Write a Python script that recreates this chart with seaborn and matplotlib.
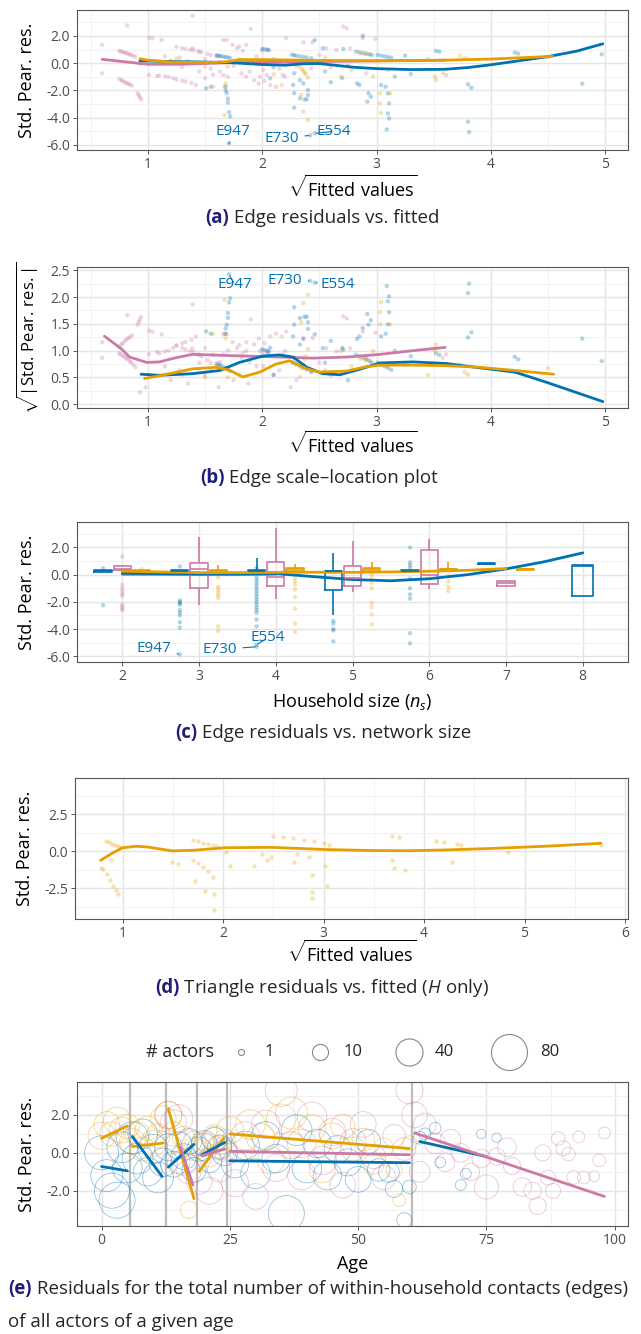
import numpy as np
import pandas as pd
import matplotlib.pyplot as plt
import seaborn as sns
from matplotlib.lines import Line2D
from matplotlib.ticker import MultipleLocator, FormatStrFormatter

# colours for the three model variants
BLUE, PINK, ORANGE = '#0072B2', '#CC79A7', '#E69F00'
NAVY = '#1f1f7a'
pal = {'A': BLUE, 'B': PINK, 'C': ORANGE}

# ---------------- (a)/(b) edge residuals: sqrt(fitted) vs std. pearson residual
pink_fit = [0.60, 0.60, 0.75, 0.76, 0.78, 0.79, 0.81, 0.82, 0.84, 0.85, 0.87, 0.89,
            0.75, 0.77, 0.78, 0.80, 0.81, 0.83, 0.84, 0.86, 0.91, 0.92, 0.93, 0.94,
            0.82, 1.39, 1.01, 1.04, 1.01, 1.08, 1.25, 1.30, 1.33, 1.37, 1.40, 1.44,
            1.47, 1.52, 1.55, 1.60, 1.62, 1.10, 1.15, 1.18, 1.22, 1.25, 1.30, 1.33,
            1.38, 1.42, 1.66, 1.69, 1.39, 1.45, 1.63, 1.66, 1.74, 1.80, 1.86, 1.90,
            1.82, 1.86, 1.89, 1.98, 2.01, 2.04, 2.07, 2.12, 2.71, 2.74, 2.21, 2.36,
            2.44, 2.56, 2.88, 2.99, 2.65, 2.77, 2.18, 2.20, 2.91, 2.43, 3.61, 1.20,
            1.30, 1.50, 1.55, 1.75, 1.95, 2.10, 2.15, 1.15, 1.45, 1.70, 1.50, 1.57,
            1.78, 1.83, 2.00, 2.05, 1.93, 1.97, 2.02, 0.93, 0.98, 1.35, 1.62, 1.88,
            2.25, 2.30, 2.60, 1.12, 1.28, 2.50]
pink_res = [1.34, -0.75, 0.90, 0.87, 0.82, 0.79, 0.74, 0.71, 0.65, 0.61, 0.55, 0.48,
            -1.16, -1.25, -1.30, -1.40, -1.45, -1.52, -1.56, -1.65, -2.20, -2.35, -2.50, -2.65,
            2.76, 3.47, 1.88, 1.83, -0.87, -0.95, 1.20, 1.10, 1.05, 0.98, 0.95, 0.86,
            0.80, 0.68, 0.60, 0.52, 0.50, -0.90, -0.97, -1.00, -1.10, -1.20, -1.28, -1.35,
            -1.45, -1.60, 1.70, 1.70, 1.09, 0.85, -0.62, -0.87, 1.34, 1.22, 1.34, 2.51,
            -0.75, -0.99, -0.62, -0.99, -0.50, -0.87, -1.60, -1.73, 2.69, 2.56, 1.83, 1.53,
            1.53, 1.09, 1.83, 1.78, 0.97, 1.09, -0.87, -0.99, -0.75, -0.38, -0.87, 0.20,
            -0.30, 0.30, -0.40, -0.20, 0.50, 0.30, -0.40, 0.50, -0.60, -1.00, -1.10, -0.85,
            1.10, 0.90, 0.90, 1.00, -1.25, -1.50, -1.30, -0.05, 0.10, 0.15, 0.10, 0.15,
            0.10, -0.20, -0.30, 1.70, 0.40, 0.60]

blue_fit = [1.68, 1.68, 1.69, 1.70, 1.70, 1.71, 1.72, 1.71, 1.60, 1.62, 1.64, 1.66,
            1.68, 1.70, 1.72, 1.51, 1.55, 2.00, 2.02, 2.04, 2.06, 2.07, 2.26, 2.28,
            2.30, 2.33, 2.36, 2.39, 2.43, 2.28, 2.33, 2.36, 2.27, 2.28, 2.28, 2.40,
            2.40, 2.39, 2.33, 2.37, 2.46, 2.53, 2.71, 2.88, 2.82, 2.85, 2.88, 2.91,
            2.94, 2.96, 3.01, 3.04, 3.07, 3.10, 3.13, 2.83, 2.85, 2.93, 2.95, 2.92,
            3.08, 3.10, 3.11, 3.10, 3.11, 3.09, 3.04, 3.16, 3.25, 3.52, 3.55, 3.80,
            3.83, 3.80, 3.81, 4.21, 4.24, 4.80, 4.97, 2.42, 2.46, 2.55, 2.60, 2.70,
            2.10, 3.30, 2.75]
blue_res = [-1.73, -2.00, -2.20, -2.60, -2.90, -3.60, -3.90, -5.88, 0.58, 0.55, 0.52, 0.48,
            0.45, 0.42, 0.38, -1.85, -1.73, 1.05, 1.02, 0.98, 0.95, -1.11, 0.62, 0.58,
            0.55, 0.50, 0.47, 0.42, 0.36, -0.74, -1.24, -1.48, -1.60, -2.20, -3.27, -1.97,
            -2.34, -2.66, -2.58, -2.66, 1.70, 1.09, 1.04, 2.02, 0.85, 0.80, 0.75, 0.70,
            0.65, 0.60, 0.60, 0.55, 0.50, 0.46, 0.41, -1.48, -1.60, -2.20, -2.46, -2.83,
            -1.73, -2.22, -2.95, -3.69, -4.05, -4.86, -1.60, -0.99, 0.55, 0.90, 0.85, -1.55,
            -1.80, -4.30, -5.06, 0.78, 0.70, -1.50, 0.65, -5.30, -5.15, -0.60, -1.40, -1.10,
            -0.30, -0.80, -0.20]

orange_fit = [1.67, 1.68, 1.67, 1.57, 1.50, 1.70, 2.10, 2.33, 2.35, 2.36, 2.37, 2.38,
              2.40, 2.34, 2.36, 2.40, 2.17, 2.86, 2.90, 2.93, 3.03, 3.03, 3.04, 3.12,
              3.10, 2.97, 2.69, 2.78, 3.51, 3.52, 3.73, 3.77, 3.80, 3.58, 4.50, 1.80,
              1.25, 2.55, 3.45]
orange_res = [-1.73, -1.50, -3.80, -1.73, -0.25, -0.25, -0.82, -0.26, -0.45, -0.55, -0.70, -0.80,
              -1.06, -2.34, -3.56, -4.18, -1.60, 0.72, 0.68, 0.66, -2.22, -2.95, -3.64, -2.22,
              -0.50, -0.99, -0.99, -0.50, -0.99, -1.23, 0.55, 0.36, 0.31, -0.75, 0.45, 0.30,
              0.35, 0.40, 0.30]

# smooth fits, panel (a)
a_pink_x = [0.60, 0.80, 1.00, 1.30, 1.70, 2.00, 2.50, 3.00, 3.60]
a_pink_y = [0.28, 0.10, -0.08, -0.08, 0.03, 0.06, 0.12, 0.17, 0.22]
a_blue_x = [0.93, 1.20, 1.50, 1.70, 2.00, 2.20, 2.35, 2.50, 2.80, 3.00, 3.30, 3.60,
            3.80, 4.00, 4.20, 4.50, 4.75, 4.98]
a_blue_y = [0.18, 0.12, 0.08, 0.05, -0.10, -0.15, -0.05, -0.03, -0.30, -0.40, -0.47, -0.45,
            -0.32, -0.12, 0.12, 0.48, 0.88, 1.42]
a_orange_x = [0.93, 1.00, 1.20, 1.40, 1.60, 1.70, 1.80, 2.00, 2.50, 3.00, 3.50, 4.00, 4.54]
a_orange_y = [0.32, 0.22, 0.08, 0.05, 0.06, 0.12, 0.26, 0.26, 0.20, 0.17, 0.20, 0.30, 0.50]

# smooth fits, panel (b)
b_pink_x = [0.62, 0.77, 0.84, 0.99, 1.10, 1.25, 1.39, 1.54, 1.83, 2.15, 2.44, 2.74, 3.03, 3.32, 3.60]
b_pink_y = [1.27, 1.03, 0.88, 0.78, 0.79, 0.87, 0.93, 0.92, 0.90, 0.88, 0.86, 0.88, 0.93, 1.00, 1.06]
b_blue_x = [0.94, 1.10, 1.39, 1.63, 1.80, 2.01, 2.15, 2.27, 2.39, 2.53, 2.68, 2.85, 3.03,
            3.32, 3.61, 3.90, 4.21, 4.50, 4.98]
b_blue_y = [0.56, 0.54, 0.57, 0.63, 0.78, 0.90, 0.92, 0.88, 0.69, 0.57, 0.55, 0.65, 0.77,
            0.79, 0.76, 0.68, 0.60, 0.40, 0.05]
b_orange_x = [0.97, 1.10, 1.39, 1.60, 1.72, 1.83, 1.98, 2.12, 2.24, 2.39, 2.50, 2.74, 2.91,
              3.03, 3.32, 3.61, 3.90, 4.21, 4.55]
b_orange_y = [0.48, 0.53, 0.66, 0.69, 0.63, 0.51, 0.60, 0.75, 0.81, 0.66, 0.60, 0.62, 0.70,
              0.73, 0.73, 0.72, 0.69, 0.63, 0.56]

# ---------------- (c) residuals by household size
box_grp = ['A', 'B', 'C'] * 6
box_n = [2, 2, 2, 3, 3, 3, 4, 4, 4, 5, 5, 5, 6, 6, 6, 7, 7, 7]
box_lo = [0.20, 0.36, 0.22, 0.22, -2.20, 0.12, 0.22, -1.79, 0.29, -2.93, -1.30, 0.30,
          0.25, -1.03, 0.32, 0.78, -0.80, 0.36]
box_q1 = [0.20, 0.36, 0.22, 0.22, -1.00, 0.12, 0.22, -0.86, 0.29, -1.15, -0.81, 0.30,
          0.25, -0.66, 0.32, 0.78, -0.80, 0.36]
box_med = [0.25, 0.45, 0.27, 0.28, 0.43, 0.25, 0.30, -0.20, 0.40, 0.25, -0.25, 0.42,
           0.28, -0.05, 0.38, 0.81, -0.62, 0.40]
box_q3 = [0.32, 0.65, 0.32, 0.34, 0.82, 0.35, 0.35, 0.90, 0.48, 0.29, 0.65, 0.50,
          0.32, 1.78, 0.45, 0.85, -0.50, 0.44]
box_hi = [0.32, 0.65, 0.32, 0.34, 2.75, 0.72, 1.21, 3.41, 0.75, 1.58, 2.48, 0.95,
          0.32, 2.63, 0.90, 0.85, -0.50, 0.44]
box8 = [-1.54, -1.54, 0.65, 0.70, 0.70]   # only model A has households of 8

c_blue_n = [2] * 2 + [3] * 11 + [4] * 19 + [5] * 5 + [6] * 10
c_blue_res = [0.48, -2.25,
              0.60, -1.90, -2.00, -2.10, -2.20, -2.60, -2.80, -3.00, -3.50, -3.90, -5.86,
              0.50, -0.20, -0.40, -0.60, -0.80, -1.00, -1.20, -1.40, -1.60, -1.80, -2.00,
              -2.20, -2.40, -2.60, -2.80, -3.30, -3.80, -5.30, -5.15,
              -3.40, -3.60, -4.00, -4.10, -4.90,
              2.00, 0.90, 0.70, 0.50, -0.30, -1.00, -1.45, -1.76, -4.30, -5.05]
c_pink_n = [2] * 10
c_pink_res = [1.34, -0.75, -1.00, -1.20, -1.40, -1.55, -2.20, -2.35, -2.50, -2.60]
c_orange_n = [2] * 1 + [3] * 8 + [4] * 8 + [5] * 8 + [6] * 4
c_orange_res = [0.40,
                -0.20, -0.90, -1.10, -1.30, -1.50, -1.70, -3.80, -4.15,
                -0.25, -0.50, -0.75, -1.10, -1.64, -2.50, -3.60, -4.20,
                0.00, -0.30, -0.60, -1.00, -2.08, -2.39, -2.93, -3.66,
                -0.10, -0.50, -0.90, -1.20]

c_blue_x = [2.0, 2.5, 3.0, 3.5, 4.0, 4.5, 5.0, 5.5, 6.0, 6.5, 7.0, 7.5, 8.0]
c_blue_y = [0.10, 0.07, 0.05, 0.05, 0.08, -0.15, -0.36, -0.45, -0.30, 0.00, 0.42, 0.95, 1.60]
c_orange_x = [2.0, 2.5, 3.0, 3.5, 4.0, 4.5, 5.0, 5.5, 6.0, 6.5, 7.0]
c_orange_y = [0.25, 0.20, 0.15, 0.15, 0.17, 0.18, 0.17, 0.20, 0.25, 0.32, 0.45]
c_pink_x = [2.0, 2.5, 3.0, 3.5, 4.0]
c_pink_y = [0.02, 0.01, 0.00, 0.00, 0.02]

# ---------------- (d) triangle residuals (H only)
d_fit = [0.78, 0.83, 0.86, 0.89, 0.92, 0.95, 0.97, 0.80, 0.84, 0.87, 0.90, 0.93, 0.95,
         0.88, 1.49, 1.55, 1.70, 1.75, 1.80, 1.85, 1.90, 1.94, 1.70, 1.75, 1.80, 1.85,
         1.90, 1.72, 1.82, 1.91, 1.91, 2.03, 2.07, 2.31, 2.39, 2.48, 2.44, 2.50, 2.60,
         2.70, 2.80, 2.90, 3.00, 3.05, 2.71, 2.73, 2.85, 2.88, 2.88, 2.88, 3.01, 3.03,
         3.68, 3.75, 3.68, 3.70, 3.81, 4.12, 4.20, 4.28, 4.33, 4.37, 4.84, 5.76]
d_res = [-1.13, 0.72, 0.62, 0.52, 0.43, 0.35, 0.30, -1.20, -1.55, -1.90, -2.30, -2.60, -2.85,
         -0.60, -0.68, -0.84, 0.76, 0.68, 0.60, 0.52, 0.44, 0.36, -0.60, -0.80, -1.05, -1.35,
         -1.75, -2.00, -2.70, -2.90, -3.93, -0.02, -0.97, -0.97, -0.17, -0.40, -0.55, 1.05, 0.95,
         0.88, 0.80, 0.70, 0.55, 0.45, -0.70, -0.16, -0.40, -1.60, -2.76, -3.13, -0.97, -2.34,
         1.04, 0.99, -0.55, -1.10, -1.26, 0.71, 0.64, -0.68, 0.48, 0.43, -0.02, 0.45]
d_line_x = [0.78, 0.90, 1.00, 1.13, 1.25, 1.49, 1.70, 2.02, 2.47, 3.03, 3.50, 3.85, 4.20, 4.66, 5.20, 5.76]
d_line_y = [-0.60, -0.10, 0.25, 0.35, 0.30, 0.04, 0.08, 0.25, 0.28, 0.13, 0.06, 0.05, 0.10, 0.20, 0.35, 0.55]

# ---------------- (e) residuals by age (circle size = number of actors)
e_blue_age = [0, 1, 2, 3, 4, 5, 6, 7, 8, 9, 10, 11, 12, 13, 14, 15, 16, 17, 18, 19, 20, 21, 22,
              23, 24, 26, 28, 30, 32, 34, 36, 38, 40, 42, 44, 46, 48, 50, 52, 54, 56, 57, 59,
              60, 62, 63, 65, 66, 70, 71, 74, 77]
e_blue_res = [0.0, -1.2, -2.0, -2.5, 0.3, -0.8, 0.8, -0.3, 1.0, -1.0, 0.2, -1.3, -0.5, 0.3,
              -0.6, 0.4, -0.2, 0.6, -0.9, 0.2, 0.5, -0.4, 0.7, 0.3, 0.0, -0.6, 0.4, -1.1, 0.9,
              -0.3, -3.2, 1.2, -0.8, 0.5, -1.2, 0.2, -0.5, -1.4, 0.6, -0.9, -1.0, -1.9, -3.55,
              -1.8, 0.8, 1.0, 1.3, -0.5, -1.7, -1.1, 1.0, 0.8]
e_blue_n = [70, 60, 75, 80, 55, 50, 60, 55, 50, 45, 50, 55, 45, 40, 35, 40, 35, 35, 30, 30, 35,
            30, 30, 30, 35, 40, 45, 50, 45, 45, 80, 55, 50, 45, 45, 40, 40, 35, 30, 25, 20, 12,
            8, 6, 5, 4, 4, 3, 3, 3, 2, 2]
e_orange_age = [0, 1, 2, 3, 4, 5, 6, 7, 8, 9, 10, 11, 12, 13, 14, 15, 16, 17, 18, 19, 20, 21,
                22, 23, 24, 25, 27, 29, 31, 33, 35, 37, 39, 41, 43, 45, 47, 49, 51, 53, 55, 57,
                58, 60]
e_orange_res = [0.9, 1.5, 1.0, 1.7, 1.2, 1.4, 0.6, 1.0, 0.2, 1.3, 0.5, 0.9, 1.8, 2.0, 1.0, -0.5,
                0.8, -3.0, 0.3, 0.2, 0.6, -0.2, 0.9, 0.4, 0.7, 1.2, 0.3, 1.5, 0.8, -0.4, 1.8,
                2.1, 0.5, 1.3, -0.9, 0.9, 1.4, 0.2, 0.7, -0.6, 0.3, -0.9, -2.5, 0.5]
e_orange_n = [40, 35, 30, 40, 35, 30, 35, 30, 30, 30, 35, 30, 35, 40, 30, 25, 25, 12, 20, 15,
              15, 20, 15, 15, 20, 40, 45, 50, 45, 40, 50, 60, 45, 40, 35, 35, 30, 30, 25, 20,
              15, 10, 5, 8]
e_pink_age = [13, 14, 15, 16, 17, 18, 19, 20, 21, 22, 23, 24, 26, 28, 30, 32, 34, 35, 37, 39,
              41, 43, 45, 47, 49, 51, 53, 55, 57, 59, 60, 61, 62, 63, 65, 67, 68, 70, 72, 74,
              75, 77, 79, 80, 82, 84, 85, 86, 87, 88, 89, 90, 91, 92, 93, 94, 96, 97, 98]
e_pink_res = [2.0, 1.6, 1.8, -0.5, -1.0, 0.5, -1.5, 0.3, -2.0, 0.8, -0.9, 0.2, -1.6, 0.9, -2.3,
              1.5, -0.8, 3.3, 0.4, -1.2, 1.9, -0.4, 1.1, -1.7, 0.6, 1.5, -0.2, -1.3, 0.9, 0.2,
              3.3, 2.0, -1.0, 1.5, 0.5, -0.5, 0.7, 0.0, -1.0, -0.3, -1.8, -0.2, 0.3, -0.7,
              -1.8, -2.0, -2.8, 0.0, -1.3, -2.0, 0.76, 0.24, -0.07, -1.3, 0.84, -1.3, -1.23,
              -0.4, 1.05]
e_pink_n = [40, 35, 45, 35, 30, 30, 35, 40, 40, 35, 30, 30, 40, 45, 35, 45, 40, 60, 40, 45, 50,
            45, 40, 35, 35, 35, 30, 30, 25, 25, 40, 35, 20, 25, 20, 15, 20, 15, 12, 15, 30, 12,
            15, 12, 15, 12, 12, 10, 8, 8, 6, 8, 6, 6, 4, 5, 3, 5, 4]

# per age-group linear fits
seg_grp = ['C', 'C', 'C', 'C', 'C', 'A', 'A', 'A', 'A', 'A', 'A', 'B', 'B', 'B', 'B']
seg_x0 = [0, 6, 13, 19, 25, 0, 6, 13, 19.5, 25, 62, 15.4, 19.5, 25, 61]
seg_y0 = [0.77, 0.33, 2.32, -0.98, 1.00, -0.72, 0.86, -0.75, -0.10, -0.42, 0.60, 0.30, -0.15, 0.08, 1.05]
seg_x1 = [5, 12, 18, 23.8, 60, 5, 11.8, 18, 24, 60, 75, 17.8, 24, 60, 98]
seg_y1 = [1.42, 0.52, -2.42, 0.77, 0.23, -0.95, -1.25, 0.45, 0.55, -0.52, -0.20, -1.70, 0.20, -0.10, -2.30]
age_breaks = [5.5, 12.5, 18.5, 24.5, 60.5]
legend_n = [1, 10, 40, 80]

# ---------------- build tables
def pts(x_a, y_a, x_b, y_b, x_c, y_c, xn='x', yn='y'):
    return pd.concat([
        pd.DataFrame({xn: x_b, yn: y_b, 'grp': 'B'}),
        pd.DataFrame({xn: x_a, yn: y_a, 'grp': 'A'}),
        pd.DataFrame({xn: x_c, yn: y_c, 'grp': 'C'}),
    ], ignore_index=True)

df_a = pts(blue_fit, blue_res, pink_fit, pink_res, orange_fit, orange_res)
df_b = df_a.copy()
df_b['y'] = np.sqrt(np.abs(df_b['y']))
line_a = pts(a_blue_x, a_blue_y, a_pink_x, a_pink_y, a_orange_x, a_orange_y)
line_b = pts(b_blue_x, b_blue_y, b_pink_x, b_pink_y, b_orange_x, b_orange_y)
line_c = pts(c_blue_x, c_blue_y, c_pink_x, c_pink_y, c_orange_x, c_orange_y)

dodge = {'A': -0.25, 'B': 0.0, 'C': 0.25}
df_c = pts(c_blue_n, c_blue_res, c_pink_n, c_pink_res, c_orange_n, c_orange_res)
df_c['x'] = df_c['x'] + df_c['grp'].map(dodge)

rows = []
for g, n, lo, q1, md, q3, hi in zip(box_grp, box_n, box_lo, box_q1, box_med, box_q3, box_hi):
    for v in (lo, q1, md, q3, hi):
        rows.append((g, n, v))
df_box = pd.DataFrame(rows, columns=['grp', 'n', 'val'])
df_box8 = pd.DataFrame({'n': 8, 'val': box8})

df_d = pd.DataFrame({'x': d_fit, 'y': d_res})
line_d = pd.DataFrame({'x': d_line_x, 'y': d_line_y})


def diam(n):
    # ggplot-like area scale: diameter 6..36 px
    return 6 + 30 * np.sqrt((np.asarray(n, float) - 1) / 79)


df_e = pd.concat([
    pd.DataFrame({'age': e_blue_age, 'res': e_blue_res, 'n': e_blue_n, 'grp': 'A'}),
    pd.DataFrame({'age': e_orange_age, 'res': e_orange_res, 'n': e_orange_n, 'grp': 'C'}),
    pd.DataFrame({'age': e_pink_age, 'res': e_pink_res, 'n': e_pink_n, 'grp': 'B'}),
], ignore_index=True)
df_e['area'] = (diam(df_e['n']) * 0.72) ** 2
df_e = df_e.sort_values('area', ascending=False)

seg_rows = []
for i, (g, x0, y0, x1, y1) in enumerate(zip(seg_grp, seg_x0, seg_y0, seg_x1, seg_y1)):
    seg_rows += [(i, g, x0, y0), (i, g, x1, y1)]
df_seg = pd.DataFrame(seg_rows, columns=['seg', 'grp', 'x', 'y'])

# ---------------- figure
sns.set_theme(style='whitegrid')
plt.rcParams['font.family'] = ['Open Sans', 'DejaVu Sans']
plt.rcParams['mathtext.fontset'] = 'custom'
plt.rcParams['mathtext.rm'] = 'Open Sans'
plt.rcParams['mathtext.it'] = 'Open Sans:italic'
plt.rcParams['axes.unicode_minus'] = False

W, H = 641, 1334
fig = plt.figure(figsize=(W / 100, H / 100), dpi=100)


def add_ax(x0, y0, x1, y1):
    return fig.add_axes([x0 / W, 1 - y1 / H, (x1 - x0) / W, (y1 - y0) / H])


def style(ax, xlim, ylim, xmaj, ymaj, xminor=True, xlabel='', ylabel='', xl_y=-0.2,
          yl_x=-0.075, yl_size=13):
    ax.set_xlim(xlim)
    ax.set_ylim(ylim)
    ax.xaxis.set_major_locator(MultipleLocator(xmaj))
    if xminor:
        ax.xaxis.set_minor_locator(MultipleLocator(xmaj / 2))
    ax.yaxis.set_major_locator(MultipleLocator(ymaj))
    ax.yaxis.set_minor_locator(MultipleLocator(ymaj / 2))
    ax.yaxis.set_major_formatter(FormatStrFormatter('%.1f'))
    ax.grid(True, which='major', color='#e5e5e5', lw=1.0)
    ax.grid(True, which='minor', color='#f2f2f2', lw=0.7)
    ax.set_axisbelow(True)
    for s in ax.spines.values():
        s.set_visible(True)
        s.set_color('#555555')
        s.set_linewidth(0.8)
    ax.tick_params(which='major', bottom=True, left=True, length=3, width=0.7,
                   color='#555555', labelcolor='#4d4d4d', labelsize=10, pad=2)
    ax.tick_params(which='minor', bottom=False, left=False)
    ax.set_xlabel(xlabel, fontsize=13, color='black')
    ax.set_ylabel(ylabel, fontsize=yl_size, color='black')
    ax.xaxis.set_label_coords(0.5, xl_y)
    ax.yaxis.set_label_coords(yl_x, 0.5)


def caption(x, y, tag, text):
    t = fig.text(x / W, 1 - y / H, tag, color=NAVY, fontsize=13.5, fontweight='bold', va='center')
    fig.axes[0].annotate(text, xy=(1, 0.5), xycoords=t, va='center', fontsize=13.5,
                         annotation_clip=False)


def label_pts(ax, items):
    for name, pt, txt in items:
        ax.annotate(name, xy=pt, xytext=txt, color=BLUE, fontsize=11, ha='center', va='center',
                    arrowprops=dict(arrowstyle='-', color=BLUE, lw=0.8, shrinkA=2, shrinkB=1))


sqrt_fit = r'$\sqrt{\mathrm{Fitted\ values}}$'
pt_kw = dict(s=10, alpha=0.3, linewidth=0, legend=False)
ln_kw = dict(estimator=None, sort=False, lw=2, legend=False)
box_kw = dict(native_scale=True, fill=False, whis=(0, 100), showfliers=False, linewidth=1.2,
              capprops={'visible': False})

# (a)
ax = add_ax(77, 10, 628, 150)
sns.scatterplot(data=df_a, x='x', y='y', hue='grp', palette=pal, ax=ax, **pt_kw)
sns.lineplot(data=line_a, x='x', y='y', hue='grp', palette=pal, ax=ax, **ln_kw)
label_pts(ax, [('E947', (1.71, -5.88), (1.74, -5.0)),
               ('E730', (2.42, -5.30), (2.17, -5.5)),
               ('E554', (2.46, -5.15), (2.63, -5.0))])
style(ax, (0.38, 5.2), (-6.37, 3.9), 1, 2, xlabel=sqrt_fit, ylabel='Std. Pear. res.', xl_y=-0.18)

# (b)
ax = add_ax(77, 267, 628, 408)
sns.scatterplot(data=df_b, x='x', y='y', hue='grp', palette=pal, ax=ax, **pt_kw)
sns.lineplot(data=line_b, x='x', y='y', hue='grp', palette=pal, ax=ax, **ln_kw)
label_pts(ax, [('E947', (1.71, 2.42), (1.76, 2.23)),
               ('E730', (2.42, 2.30), (2.20, 2.31)),
               ('E554', (2.46, 2.27), (2.66, 2.23))])
style(ax, (0.38, 5.2), (-0.07, 2.56), 1, 0.5, xlabel=sqrt_fit,
      ylabel=r'$\sqrt{|\mathrm{Std.\,Pear.\,res.}|}$', xl_y=-0.16, yl_x=-0.065, yl_size=12)

# (c)
ax = add_ax(77, 522, 628, 662)
sns.scatterplot(data=df_c, x='x', y='y', hue='grp', palette=pal, ax=ax, **pt_kw)
sns.boxplot(data=df_box, x='n', y='val', hue='grp', hue_order=['A', 'B', 'C'], palette=pal,
            width=0.75, gap=0.1, legend=False, ax=ax, **box_kw)
sns.boxplot(data=df_box8, x='n', y='val', color=BLUE, width=0.28, ax=ax, **box_kw)
sns.lineplot(data=line_c, x='x', y='y', hue='grp', palette=pal, ax=ax, **ln_kw)
label_pts(ax, [('E947', (2.75, -5.86), (2.41, -5.44)),
               ('E730', (3.75, -5.30), (3.27, -5.50)),
               ('E554', (3.75, -5.15), (3.90, -4.64))])
style(ax, (1.41, 8.59), (-6.42, 3.87), 1, 2, xminor=False,
      xlabel=r'Household size ($n_s$)', ylabel='Std. Pear. res.', xl_y=-0.21)

# (d)
ax = add_ax(75, 778, 628, 919)
sns.scatterplot(data=df_d, x='x', y='y', color=ORANGE, ax=ax, **pt_kw)
sns.lineplot(data=line_d, x='x', y='y', color=ORANGE, ax=ax, **ln_kw)
style(ax, (0.525, 6.03), (-4.56, 4.96), 1, 2.5, xlabel=sqrt_fit, ylabel='Std. Pear. res.',
      xl_y=-0.15)

# (e)
ax = add_ax(77, 1082, 628, 1226)
for b in age_breaks:
    ax.axvline(b, color='#bdbdbd', lw=1.6, zorder=1)
amin, amax = df_e['area'].min(), df_e['area'].max()
sns.scatterplot(data=df_e, x='age', y='res', hue='grp', palette=pal, size='area',
                sizes=(amin, amax), size_norm=(amin, amax), alpha=0.42, linewidth=0.6,
                legend=False, ax=ax)
coll = ax.collections[-1]
coll.set_edgecolor(coll.get_facecolor())
coll.set_facecolor('none')
sns.lineplot(data=df_seg, x='x', y='y', hue='grp', units='seg', palette=pal, estimator=None,
             lw=2, legend=False, ax=ax)
style(ax, (-4.8, 102.6), (-3.86, 3.74), 25, 2, xlabel='Age', ylabel='Std. Pear. res.',
      xl_y=-0.2)
ax.xaxis.set_major_formatter(FormatStrFormatter('%d'))

# size legend for (e)
fig.text(180 / W, 1 - 1052 / H, '# actors', fontsize=13, ha='center', va='center')
for n, cx, lx in zip(legend_n, [241, 320, 409, 509], [265, 344, 435, 540]):
    fig.add_artist(Line2D([cx / W], [1 - 1052 / H], transform=fig.transFigure, ls='',
                          marker='o', mfc='none', mec='#888888', mew=0.8,
                          ms=float(diam(n)) * 0.72))
    fig.text(lx / W, 1 - 1052 / H, str(n), fontsize=12, ha='left', va='center')

# captions
caption(205, 218, '(a)', ' Edge residuals vs. fitted')
caption(200, 478, '(b)', ' Edge scale\u2013location plot')
caption(175, 733, '(c)', ' Edge residuals vs. network size')
caption(155, 988, '(d)', r' Triangle residuals vs. fitted ($H$ only)')
caption(8, 1289, '(e)', ' Residuals for the total number of within-household contacts (edges)')
fig.text(8 / W, 1 - 1322 / H, 'of all actors of a given age', fontsize=13.5, va='center')

plt.savefig('out.png', dpi=100)
